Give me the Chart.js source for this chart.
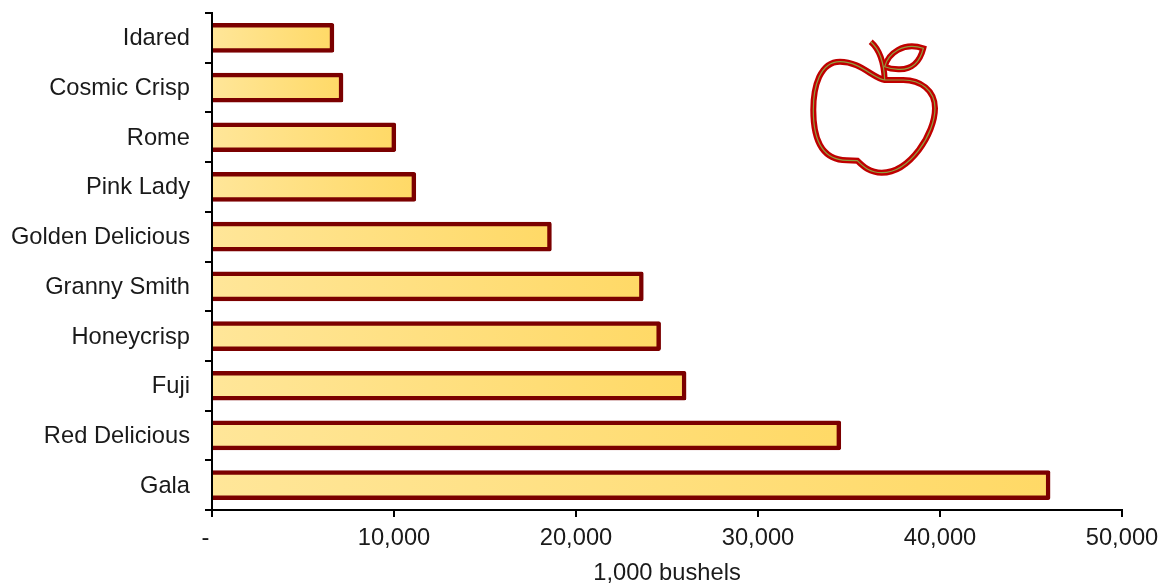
<!DOCTYPE html>
<html>
<head>
<meta charset="utf-8">
<title>Apple production by variety</title>
<script src="https://cdn.jsdelivr.net/npm/chart.js@4"></script>
<style>
  html, body { margin: 0; padding: 0; background: #fff; }
  canvas { display: block; }
</style>
</head>
<body>
<canvas id="chart" width="1161" height="585"></canvas>
<script>
const varieties = ["Idared", "Cosmic Crisp", "Rome", "Pink Lady", "Golden Delicious",
  "Granny Smith", "Honeycrisp", "Fuji", "Red Delicious", "Gala"];
const bushels = [6700, 7200, 10100, 11200, 18650, 23700, 24650, 26050, 34550, 46050];
const axisTicks = [0, 10000, 20000, 30000, 40000, 50000];

const labelFont = { family: "'Liberation Sans', Arial, sans-serif", size: 23.7 };
const ink = "#1a1a1a";

// light to dark fill running along each bar
function barFill(ctx) {
  const { chart, dataIndex } = ctx;
  const xScale = chart.scales.x;
  if (!xScale || dataIndex === undefined) return "#FFE699";
  const x0 = xScale.getPixelForValue(0);
  const x1 = xScale.getPixelForValue(bushels[dataIndex]);
  // scales have no pixel range until the first layout pass
  if (!Number.isFinite(x0) || !Number.isFinite(x1)) return "#FFE699";
  const g = chart.ctx.createLinearGradient(x0, 0, x1, 0);
  g.addColorStop(0, "#FFE699");
  g.addColorStop(1, "#FFD966");
  return g;
}

const appleParts = [
  "M870.7 41.7C878.3 48.3 884 61.7 884.7 80",
  "M884.7 80C873.3 78.3 860 61.7 840 61.7C820 61.7 813.3 86.7 813.3 110C813.3 136.7 820 160 846.7 160.3" +
    "L857.3 160.7C863.3 166.7 870 172.7 881.7 172.7C910 172.7 935 133.3 935 108.3C935 90 920 80 903.3 80Z",
  "M884.7 66.7C888.3 53.3 903.3 41.7 923.3 48.3C920 61.7 911.7 70 898.3 69.3C891.7 69 888 68 884.7 66.7Z"
];

// apple outline, a thick red stroke with a thin green core
const applePlugin = {
  id: "apple",
  afterDraw(chart) {
    const c = chart.ctx;
    c.save();
    c.lineJoin = "miter";
    appleParts.forEach((d) => {
      c.strokeStyle = "#C00000";
      c.lineWidth = 6;
      c.stroke(new Path2D(d));
    });
    appleParts.forEach((d) => {
      c.strokeStyle = "#8FA040";
      c.lineWidth = 1.2;
      c.stroke(new Path2D(d));
    });
    c.restore();
  }
};

new Chart(document.getElementById("chart"), {
  type: "bar",
  data: {
    labels: varieties,
    datasets: [{
      data: bushels,
      backgroundColor: barFill,
      borderColor: "#7B0000",
      borderWidth: 4.5,
      borderRadius: 2,
      barThickness: 29
    }]
  },
  options: {
    indexAxis: "y",
    responsive: false,
    animation: false,
    layout: { padding: { left: 0, right: 39, top: 13, bottom: 0 } },
    plugins: { legend: { display: false }, tooltip: { enabled: false } },
    scales: {
      y: {
        afterFit: (axis) => {
          axis.width = 212;
          axis.paddingTop = 0;
          axis.paddingBottom = 0;
        },
        border: { color: "#000", width: 2, z: 1 },
        grid: { drawOnChartArea: false, color: "#000", lineWidth: 2, tickLength: 7, offset: true },
        ticks: { color: ink, font: labelFont, padding: 15, autoSkip: false, labelOffset: 1 }
      },
      x: {
        min: 0,
        max: 50000,
        afterFit: (axis) => {
          axis.height = 75;
          axis.paddingLeft = 0;
          axis.paddingRight = 0;
        },
        afterBuildTicks: (axis) => { axis.ticks = axisTicks.map((value) => ({ value })); },
        border: { color: "#000", width: 2 },
        grid: { drawOnChartArea: false, color: "#000", lineWidth: 2, tickLength: 7 },
        ticks: {
          color: ink,
          font: labelFont,
          padding: 7,
          maxRotation: 0,
          callback: (v) => (v === 0 ? "-  " : v.toLocaleString("en-US"))
        },
        title: {
          display: true,
          text: "1,000 bushels",
          color: ink,
          font: { ...labelFont, lineHeight: 0.95 },
          padding: { top: 13, bottom: 0 }
        }
      }
    }
  },
  plugins: [applePlugin]
});
</script>
</body>
</html>
